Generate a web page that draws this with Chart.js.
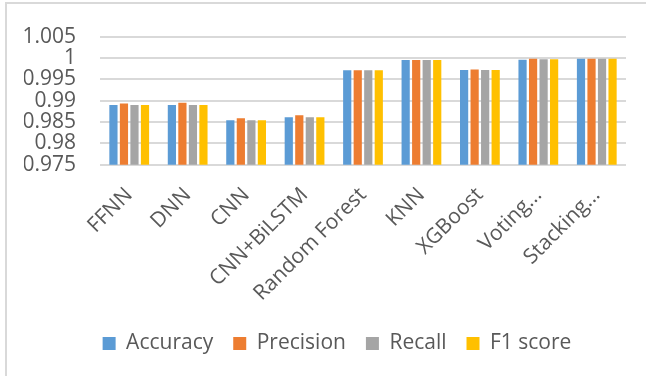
<!DOCTYPE html>
<html>
<head>
<meta charset="utf-8">
<script src="https://cdn.jsdelivr.net/npm/chart.js@4/dist/chart.umd.min.js"></script>
<style>
  html, body { margin: 0; padding: 0; background: #fff; }
  #wrap { position: relative; width: 646px; height: 376px; }
  #frame { position: absolute; left: 5px; top: 2px; right: -4px; bottom: -4px; border: 2px solid #d9d9d9; box-sizing: border-box; }
  canvas { position: absolute; left: 0; top: 0; }
</style>
</head>
<body>
<div id="wrap">
  <div id="frame"></div>
  <canvas id="myChart" width="646" height="376"></canvas>
</div>
<script>
'use strict';
// categories and series
const models = ['FFNN', 'DNN', 'CNN', 'CNN+BiLSTM', 'Random Forest', 'KNN', 'XGBoost', 'Voting...', 'Stacking...'];
const accuracy = [0.9890, 0.9890, 0.9854, 0.9861, 0.9971, 0.9995, 0.9972, 0.9996, 0.9998];
const precision = [0.9893, 0.9895, 0.9859, 0.9866, 0.9971, 0.9995, 0.9973, 0.9998, 0.9998];
const recall = [0.9890, 0.9890, 0.9854, 0.9861, 0.9971, 0.9995, 0.9972, 0.9997, 0.9998];
const f1score = [0.9890, 0.9890, 0.9854, 0.9861, 0.9971, 0.9995, 0.9972, 0.9997, 0.9998];
const yTicks = [0.975, 0.98, 0.985, 0.99, 0.995, 1, 1.005];

const textColor = '#595959';
const gridColor = '#d9d9d9';
const fontFamily = '"Open Sans", sans-serif';
const fontSize = 21;

function makeSet(label, data, color) {
  return {
    label: label,
    data: data,
    backgroundColor: color,
    borderWidth: 0,
    categoryPercentage: 0.72,
    barPercentage: 0.78
  };
}

// the legend in the picture sits a bit right of the canvas centre
const shiftLegend = {
  id: 'shiftLegend',
  afterLayout: function (chart) {
    chart.legend.left += 12;
    chart.legend.right += 12;
  }
};

let ctx = document.getElementById('myChart').getContext('2d');
let chart = new Chart(ctx, {
  type: 'bar',
  data: {
    labels: models,
    datasets: [
      makeSet('Accuracy', accuracy, '#5B9BD5'),
      makeSet('Precision', precision, '#ED7D31'),
      makeSet('Recall', recall, '#A5A5A5'),
      makeSet('F1 score', f1score, '#FFC000')
    ]
  },
  plugins: [shiftLegend],
  options: {
    responsive: false,
    animation: false,
    layout: { padding: { left: 24, right: 20, top: 14, bottom: 12 } },
    plugins: {
      tooltip: { enabled: false },
      legend: {
        position: 'bottom',
        labels: {
          color: textColor,
          font: { family: fontFamily, size: fontSize },
          boxWidth: 13,
          boxHeight: 13,
          padding: 20
        }
      }
    },
    scales: {
      x: {
        grid: { display: false, drawTicks: false },
        border: { display: false },
        afterFit: function (axis) { axis.height -= 11; },
        ticks: {
          color: textColor,
          font: { family: fontFamily, size: fontSize },
          autoSkip: false,
          maxRotation: 45,
          minRotation: 45,
          padding: 18
        }
      },
      y: {
        min: yTicks[0],
        max: yTicks[yTicks.length - 1],
        afterBuildTicks: function (axis) {
          axis.ticks = yTicks.map(v => ({ value: v }));
        },
        afterFit: function (axis) { axis.width = 76; },
        grid: { color: gridColor, lineWidth: 2, drawTicks: false },
        border: { display: false },
        ticks: {
          color: textColor,
          font: { family: fontFamily, size: fontSize },
          autoSkip: false,
          padding: 24,
          callback: function (v) { return String(parseFloat(Number(v).toFixed(3))); }
        }
      }
    }
  }
});
</script>
</body>
</html>
